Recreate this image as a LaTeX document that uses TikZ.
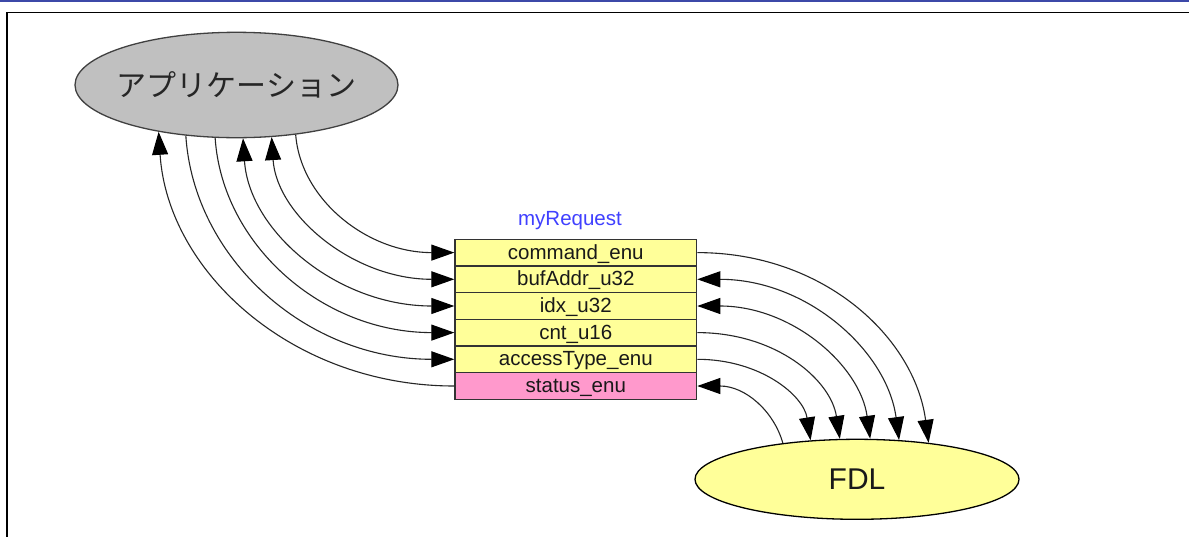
\documentclass[tikz,border=0pt]{standalone}
\usepackage{fontspec}
\setmainfont{Liberation Sans}
\newfontfamily\cjk{Noto Sans CJK JP}
\usetikzlibrary{arrows.meta,shapes.geometric}
\definecolor{recyellow}{RGB}{255,255,153}
\definecolor{recpink}{RGB}{255,153,204}
\definecolor{appgray}{RGB}{192,192,192}
\definecolor{titleblue}{RGB}{64,64,255}
\definecolor{topblue}{RGB}{60,72,168}
\begin{document}
\begin{tikzpicture}[x=1pt,y=-1pt,
  >={Triangle[length=23pt,width=16pt,color=black]},
  field/.style={draw=black!80, line width=1.3pt, fill=recyellow,
    minimum width=241.7pt, minimum height=26.67pt, inner sep=0pt,
    text height=16pt, text depth=3pt,
    font=\fontsize{20.5}{24}\selectfont, text=black!90},
  link/.style={line width=1.1pt, draw=black!85},
  bubble/.style={ellipse, line width=1.3pt, inner sep=0pt}
]
\useasboundingbox (0,0) rectangle (1189,536);
\fill[white] (0,0) rectangle (1189,536);
\fill[topblue] (0,0) rectangle (1189,1.6);
\draw[line width=1.8pt] (6.8,540) -- (6.8,12.5) -- (1195,12.5);

\node[bubble, draw=black!75, fill=appgray, minimum width=323pt, minimum height=105.4pt,
  label={[font=\cjk\fontsize{30}{36}\selectfont, text=black!85]center:アプリケーション}] (app) at (236.5,85) {};
\node[bubble, draw=black, fill=recyellow, minimum width=324pt, minimum height=80pt,
  font=\fontsize{30}{36}\selectfont, text=black!90] (fdl) at (857,479.3) {FDL};

\node[font=\fontsize{20.5}{24}\selectfont, text=titleblue] (title) at (570,221) {myRequest};
\node[field] (r1) at (575.8,252.6) {command\_enu};
\node[field] (r2) at (575.8,279.3) {bufAddr\_u32};
\node[field] (r3) at (575.8,306.0) {idx\_u32};
\node[field] (r4) at (575.8,332.6) {cnt\_u16};
\node[field] (r5) at (575.8,359.3) {accessType\_enu};
\node[field, fill=recpink] (r6) at (575.8,386.0) {status\_enu};

\draw[link,<-] (app.211) .. controls +(9,140) and +(-162,0) .. (r6.west);
\draw[link,->] (app.225) .. controls +(8,123) and +(-148,0) .. (r5.west);
\draw[link,->] (app.248) .. controls +(7,107) and +(-132,0) .. (r4.west);
\draw[link,<->] (app.277) .. controls +(6,93) and +(-117,0) .. (r3.west);
\draw[link,<->] (app.304) .. controls +(5,78) and +(-101,0) .. (r2.west);
\draw[link,->] (app.320) .. controls +(5,65) and +(-87,0) .. (r1.west);

\draw[link,->] (r1.east) .. controls +(127,0) and +(-14,-105) .. (fdl.27);
\draw[link,<->] (r2.east) .. controls +(110,0) and +(-12,-89) .. (fdl.43);
\draw[link,<->] (r3.east) .. controls +(95,0) and +(-10,-73) .. (fdl.72);
\draw[link,->] (r4.east) .. controls +(79,0) and +(-9,-59) .. (fdl.113);
\draw[link,->] (r5.east) .. controls +(63,0) and +(-7,-45) .. (fdl.140);
\draw[link,<-] (r6.east) .. controls +(48,0) and +(-9,-32) .. (fdl.154);
\end{tikzpicture}
\end{document}
